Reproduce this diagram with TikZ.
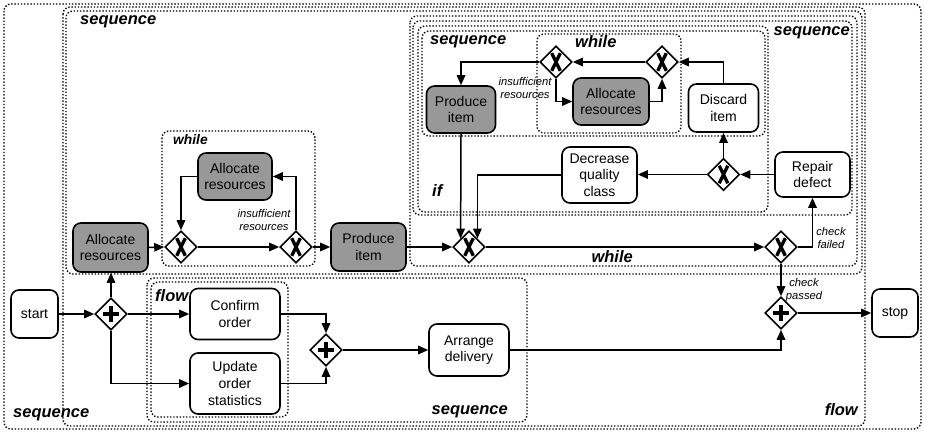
\documentclass[tikz,border=0pt]{standalone}
\usepackage{fontspec}
\setmainfont{Liberation Sans}
\usetikzlibrary{shapes.geometric,arrows.meta,calc}
\definecolor{taskgray}{RGB}{152,152,152}
\begin{document}
\begin{tikzpicture}[x=1pt,y=-1pt,
 task/.style={draw, line width=1.6pt, rounded corners=8pt, fill=white, align=center, inner sep=0pt, font=\fontsize{14}{16.7}\selectfont},
 gtask/.style={task, fill=taskgray},
 gw/.style={draw, diamond, line width=1.6pt, fill=white, minimum width=32pt, minimum height=32pt, inner sep=0pt},
 xgw/.style={gw, path picture={\draw[line width=3.3pt] ([shift={(-4.3,-8.8)}]path picture bounding box.center) -- ([shift={(4.3,8.8)}]path picture bounding box.center) ([shift={(-4.3,8.8)}]path picture bounding box.center) -- ([shift={(4.3,-8.8)}]path picture bounding box.center);}},
 pgw/.style={gw, path picture={\draw[line width=4.5pt] ([shift={(-8,0)}]path picture bounding box.center) -- ([shift={(8,0)}]path picture bounding box.center) ([shift={(0,-8)}]path picture bounding box.center) -- ([shift={(0,8)}]path picture bounding box.center);}},
 grp/.style={draw, line width=1.4pt, dash pattern=on 1.4pt off 1.8pt, rounded corners=7pt},
 flowline/.style={line width=1.5pt, -{Triangle[length=10pt,width=8.5pt]}},
 glabel/.style={font=\bfseries\itshape\fontsize{16.5}{18}\selectfont, inner sep=0pt},
 slabel/.style={font=\bfseries\itshape\fontsize{13.8}{16}\selectfont, inner sep=0pt},
 cond/.style={font=\itshape\fontsize{11.2}{13.5}\selectfont, align=center, inner sep=0pt}
]
\useasboundingbox (0,0) rectangle (925,433);

% group boxes
\draw[grp] (4,4) rectangle (921,429);
\draw[grp] (63,7) rectangle (865,426);
\draw[grp] (66,11) rectangle (862,274);
\draw[grp] (162,131) rectangle (315,266);
\draw[grp] (410,16) rectangle (857,266);
\draw[grp] (413,21) rectangle (852,215);
\draw[grp] (418,26) rectangle (768,212);
\draw[grp] (422,31) rectangle (765,136);
\draw[grp] (537,34) rectangle (681,133);
\draw[grp] (147,278) rectangle (527,422);
\draw[grp] (151,282) rectangle (288,417);

% group labels
\node[glabel, anchor=west] (l1) at (13,415) {sequence};
\node[glabel, anchor=east] (l2) at (858,410) {flow};
\node[glabel, anchor=west] (l3) at (80,22) {sequence};
\node[slabel, anchor=west] (l4) at (173,140) {while};
\node[glabel, anchor=west] (l5) at (155,296) {flow};
\node[glabel, anchor=east] (l6) at (508,412) {sequence};
\node[glabel, anchor=east] (l7) at (633,257) {while};
\node[glabel, anchor=east] (l8) at (850,33) {sequence};
\node[glabel, anchor=west] (l9) at (432,191) {if};
\node[glabel, anchor=west] (l10) at (430,42) {sequence};
\node[glabel, anchor=west] (l11) at (575,42) {while};

% tasks
\node[task, minimum width=47pt, minimum height=48pt] (start) at (34.5,314) {start};
\node[task, minimum width=46pt, minimum height=48pt] (stop) at (895,313) {stop};
\node[gtask, minimum width=75pt, minimum height=49pt] (alloc1) at (110.5,247.5) {Allocate\\resources};
\node[gtask, minimum width=74pt, minimum height=47pt] (alloc2) at (235,176.5) {Allocate\\resources};
\node[gtask, minimum width=75pt, minimum height=48pt] (prod1) at (368.5,247) {Produce\\item};
\node[gtask, minimum width=69pt, minimum height=47pt] (prod2) at (461,109.5) {Produce\\item};
\node[gtask, minimum width=76pt, minimum height=47pt] (alloc3) at (611,101.5) {Allocate\\resources};
\node[task, minimum width=70pt, minimum height=48pt] (discard) at (723.5,108) {Discard\\item};
\node[task, minimum width=75pt, minimum height=56pt] (decr) at (599.5,175) {Decrease\\quality\\class};
\node[task, minimum width=75pt, minimum height=45pt] (repair) at (812.5,174.5) {Repair\\defect};
\node[task, minimum width=90pt, minimum height=51pt] (confirm) at (235,314) {Confirm\\order};
\node[task, minimum width=90pt, minimum height=61pt] (update) at (235,383.5) {Update\\order\\statistics};
\node[task, minimum width=80pt, minimum height=52pt] (arrange) at (469,350) {Arrange\\delivery};

% gateways
\node[pgw] (ands) at (111,314) {};
\node[pgw] (andj2) at (326,350) {};
\node[pgw] (andj) at (781,313) {};
\node[xgw] (x1) at (181,247) {};
\node[xgw] (x2) at (296,247) {};
\node[xgw] (x3) at (469,247) {};
\node[xgw] (x4) at (781,247) {};
\node[xgw] (x5) at (723.5,174.5) {};
\node[xgw] (x6) at (556,62) {};
\node[xgw] (x7) at (662,62) {};

% conditions
\node[cond] (c1) at (264,220) {insufficient\\resources};
\node[cond] (c2) at (525,88) {insufficient\\resources};
\node[cond] (c3) at (831,238) {check\\failed};
\node[cond] (c4) at (804,290) {check\\passed};

% flows
\draw[flowline] (start) -- (ands);
\draw[flowline] (ands.north) -- (ands.north |- alloc1.south);
\draw[flowline] (ands.east) -- (confirm.west);
\draw[flowline] (ands.south) |- (update.west);
\draw[flowline] (alloc1.east) -- (x1.west);
\draw[flowline] (x1.east) -- (x2.west);
\draw[flowline] (x2.north) |- (alloc2.east);
\draw[flowline] (alloc2.west) -| (x1.north);
\draw[flowline] (x2.east) -- (prod1.west);
\draw[flowline] (prod1.east) -- (x3.west);
\draw[flowline] (x3.east) -- (x4.west);
\draw[flowline] (x4.east) -| (repair.south);
\draw[flowline] (x4.south) -- (andj.north);
\draw[flowline] (repair.west |- x5.east) -- (x5.east);
\draw[flowline] (x5.west) -- (decr.east |- x5.west);
\draw[flowline] (x5.north) -- (discard.south);
\draw[flowline] (discard.north) |- (x7.east);
\draw[flowline] (x7.west) -- (x6.east);
\draw[flowline] (alloc3.east) -| (x7.south);
\draw[flowline] (x6.south) |- (alloc3.west);
\draw[flowline] (x6.west) -| (prod2.north);
\draw[flowline] (prod2.south) -- (x3.north west);
\draw[flowline] (decr.west) -| (x3.north east);
\draw[flowline] (confirm.east) -| (andj2.north);
\draw[flowline] (update.east) -| (andj2.south);
\draw[flowline] (andj2.east) -- (arrange.west);
\draw[flowline] (arrange.east) -| (andj.south);
\draw[flowline] (andj.east) -- (stop.west);
\end{tikzpicture}
\end{document}
